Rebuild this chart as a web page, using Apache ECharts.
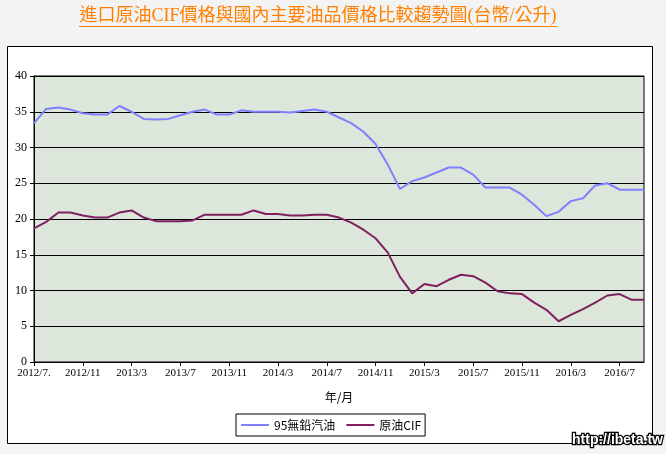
<!DOCTYPE html>
<html>
<head>
<meta charset="utf-8">
<script src="https://cdn.jsdelivr.net/npm/echarts@6/dist/echarts.min.js"></script>
<style>
html,body{margin:0;padding:0;background:#f3f3f3;}
#c{width:666px;height:454px;}
</style>
</head>
<body>
<div id="c"></div>
<script>
const months = [
 '2012/7.','2012/8','2012/9','2012/10','2012/11','2012/12',
 '2013/1','2013/2','2013/3','2013/4','2013/5','2013/6','2013/7','2013/8','2013/9','2013/10','2013/11','2013/12',
 '2014/1','2014/2','2014/3','2014/4','2014/5','2014/6','2014/7','2014/8','2014/9','2014/10','2014/11','2014/12',
 '2015/1','2015/2','2015/3','2015/4','2015/5','2015/6','2015/7','2015/8','2015/9','2015/10','2015/11','2015/12',
 '2016/1','2016/2','2016/3','2016/4','2016/5','2016/6','2016/7','2016/8','2016/9'
];
const gasoline95 = [
 33.4,35.4,35.6,35.3,34.8,34.6,34.6,35.8,35.0,34.0,33.9,34.0,34.5,35.0,35.3,34.6,34.6,35.2,
 35.0,35.0,35.0,34.9,35.1,35.3,35.0,34.2,33.4,32.2,30.5,27.6,24.2,25.3,25.8,26.5,27.2,27.2,
 26.2,24.4,24.4,24.4,23.4,22.0,20.4,21.0,22.5,22.9,24.7,25.0,24.1,24.1,24.1
];
const crudeCIF = [
 18.7,19.6,20.9,20.9,20.5,20.2,20.2,20.9,21.2,20.2,19.7,19.7,19.7,19.8,20.6,20.6,20.6,20.6,
 21.2,20.7,20.7,20.5,20.5,20.6,20.6,20.2,19.5,18.5,17.3,15.3,11.9,9.6,10.9,10.6,11.5,12.2,
 12.0,11.1,9.9,9.6,9.5,8.3,7.3,5.7,6.6,7.4,8.3,9.3,9.5,8.7,8.7
];
const seriesNames = ['95無鉛汽油','原油CIF'];
const titleText = '進口原油CIF價格與國內主要油品價格比較趨勢圖(台幣/公升)';

const chart = echarts.init(document.getElementById('c'), null, {renderer:'canvas'});
const serif = "'Liberation Serif','Noto Sans CJK TC',serif";
const cjk = "'Noto Sans CJK TC','Liberation Sans',sans-serif";
chart.setOption({
  backgroundColor:'#f3f3f3',
  animation:false,
  graphic:[
    {type:'rect', z:-10, shape:{x:7.5,y:46.5,width:645,height:397}, style:{fill:'#ffffff',stroke:'#000',lineWidth:1}},
    {type:'text', x:318, y:16, style:{text:titleText, font:"18px "+serif, fill:'#FF8000', align:'center', verticalAlign:'middle'}},
    {type:'line', shape:{x1:79,y1:26.5,x2:557,y2:26.5}, style:{stroke:'#FF8000',lineWidth:1}},
    {type:'text', x:663, y:440, style:{text:'http://ibeta.tw', font:"bold 14px 'Liberation Sans',sans-serif", fill:'#fff', stroke:'#000', lineWidth:2.5, align:'right', verticalAlign:'middle'}}
  ],
  grid:{left:34,right:22,top:76,bottom:92,show:true,backgroundColor:'#DCE6DA',borderColor:'#000',borderWidth:1},
  legend:{
    data:seriesNames, left:236, top:414, orient:'horizontal',
    backgroundColor:'#fff', borderColor:'#000', borderWidth:1, padding:[5,4,5,5],
    itemWidth:28, itemHeight:2, itemGap:11, icon:'rect',
    textStyle:{fontFamily:cjk, fontSize:12, color:'#000'}
  },
  xAxis:{
    type:'category', data:months, boundaryGap:false,
    name:'年/月', nameLocation:'middle', nameGap:29,
    nameTextStyle:{fontFamily:cjk, fontSize:12, color:'#000'},
    axisLine:{lineStyle:{color:'#000',width:1}},
    axisTick:{show:true, interval:3, length:4, lineStyle:{color:'#000'}},
    axisLabel:{interval:3, color:'#000', fontFamily:serif, fontSize:11, margin:6},
    splitLine:{show:false}
  },
  yAxis:{
    type:'value', min:0, max:40, interval:5,
    axisLine:{show:true, lineStyle:{color:'#000',width:1}},
    axisTick:{show:true, length:4, lineStyle:{color:'#000'}},
    axisLabel:{color:'#000', fontFamily:serif, fontSize:12, margin:7},
    splitLine:{show:true, lineStyle:{color:'#000',width:1}}
  },
  series:[
    {name:seriesNames[0], type:'line', data:gasoline95, symbol:'none', color:'#8080FF', lineStyle:{width:2,color:'#8080FF'}},
    {name:seriesNames[1], type:'line', data:crudeCIF, symbol:'none', color:'#7F1F5F', lineStyle:{width:2,color:'#7F1F5F'}}
  ]
});
</script>
</body>
</html>
